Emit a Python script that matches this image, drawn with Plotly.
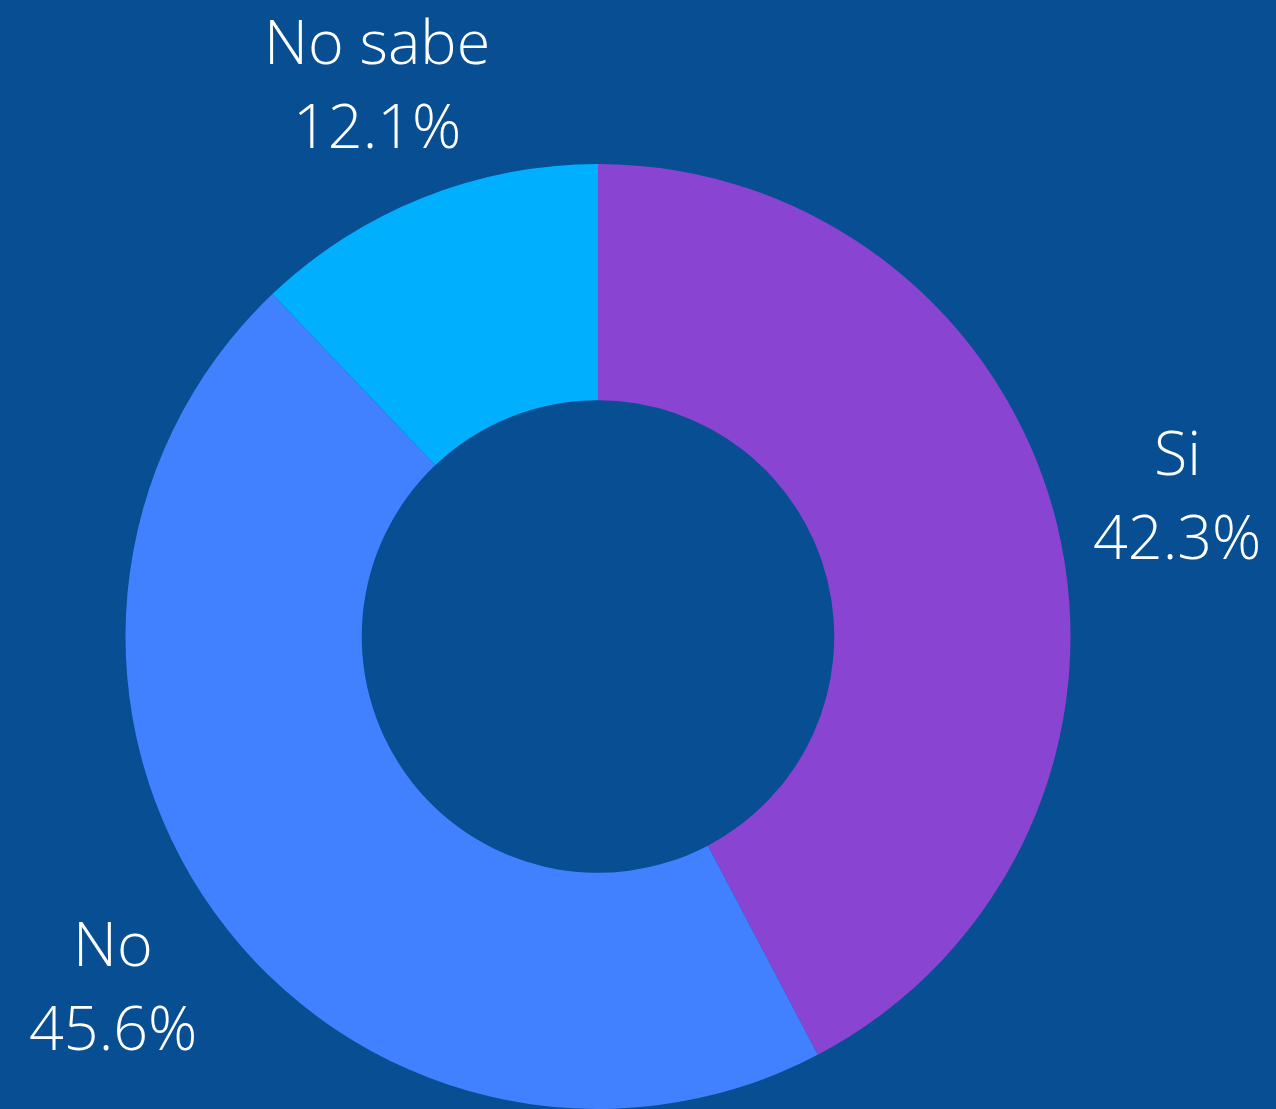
import math
import plotly.graph_objects as go

labels = ["Si", "No", "No sabe"]
values = [42.3, 45.6, 12.1]
colors = ["#8944D2", "#4180FF", "#00B0FF"]

W, H = 1276, 1109
# pie placement (pixels)
cx, cy, radius = 598, 636.5, 472.5
label_dist = 1.263  # label distance as a fraction of the outer radius

fig = go.Figure(
    go.Pie(
        labels=labels,
        values=values,
        hole=0.5,
        sort=False,
        direction="clockwise",
        rotation=0,
        marker=dict(colors=colors, line=dict(width=0)),
        textinfo="none",
        hoverinfo="label+percent",
        showlegend=False,
        domain=dict(
            x=[(cx - radius) / W, (cx + radius) / W],
            y=[1 - (cy + radius) / H, 1 - (cy - radius) / H],
        ),
    )
)

# labels sit on the mid-angle of each slice, outside the ring
font = dict(family="Open Sans", size=61, color="white", weight=300)
total = sum(values)
start = 0.0
for lab, val in zip(labels, values):
    mid = (start + val / 2) / total * 2 * math.pi
    start += val
    px = cx + label_dist * radius * math.sin(mid)
    py = cy - label_dist * radius * math.cos(mid)
    for txt, shift in ((lab, 42), (f"{val:.1f}%", -42)):
        fig.add_annotation(
            x=px / W, y=1 - py / H, xref="paper", yref="paper",
            text=txt, showarrow=False, font=font,
            xanchor="center", yanchor="middle", yshift=shift,
        )

fig.update_layout(
    width=W,
    height=H,
    paper_bgcolor="#084E93",
    plot_bgcolor="#084E93",
    margin=dict(l=0, r=0, t=0, b=0, autoexpand=False),
)

fig.write_html(
    "out.html",
    config={"displayModeBar": False},
    post_script="document.body.style.margin='0px';",
)
